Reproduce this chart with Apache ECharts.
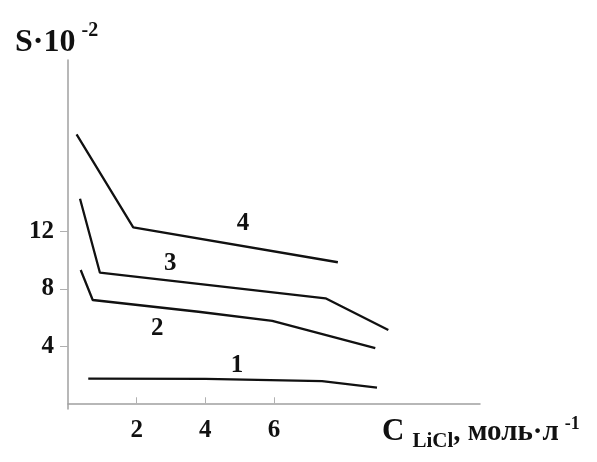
<!DOCTYPE html>
<html><head><meta charset="utf-8">
<script src="https://cdn.jsdelivr.net/npm/echarts@6/dist/echarts.min.js"></script>
<style>html,body{margin:0;padding:0;background:#fff}#c{width:597px;height:462px}</style>
</head><body><div id="c"></div>
<script>
// Curve data: [C_LiCl, S·10^-2]
const curve1 = [[0.59,1.72],[4.0,1.70],[7.4,1.55],[9.0,1.10]];
const curve2 = [[0.37,9.32],[0.72,7.22],[3.8,6.40],[5.95,5.76],[8.95,3.85]];
const curve3 = [[0.35,14.3],[0.93,9.13],[7.5,7.34],[9.33,5.13]];
const curve4 = [[0.25,18.8],[1.9,12.3],[7.86,9.86]];
const curveNames = ['1','2','3','4'];
const labelPos = [[4.92,2.65],[2.6,5.2],[2.98,9.75],[5.1,12.55]];
const xTicks = [2,4,6];
const yTicks = [4,8,12];

const FONT = '"Liberation Serif", "DejaVu Serif", serif';
const curves = [curve1, curve2, curve3, curve4];

const chart = echarts.init(document.getElementById('c'));
chart.setOption({
  backgroundColor: '#fff',
  animation: false,
  grid: {left: 68, right: 117, top: 60, bottom: 53},
  xAxis: {
    type: 'value', min: 0, max: 12,
    axisLine: {show: true, lineStyle: {color: '#a0a0a0', width: 1.5}},
    axisTick: {show: true, inside: true, length: 6, customValues: xTicks, lineStyle: {color: '#b0b0b0'}},
    axisLabel: {customValues: xTicks, margin: 9, color: '#111', fontFamily: FONT, fontWeight: 'bold', fontSize: 25},
    splitLine: {show: false},
    name: '{c|C}{sub|LiCl}{t|, моль·л}{sup|-1}',
    nameLocation: 'end', nameGap: -98,
    nameTextStyle: {
      align: 'left', verticalAlign: 'top', padding: [14,0,0,0],
      rich: {
        c: {fontFamily: FONT, fontWeight: 'bold', fontSize: 31, color: '#111', verticalAlign: 'bottom', lineHeight: 30},
        sub: {fontFamily: FONT, fontWeight: 'bold', fontSize: 21, color: '#111', verticalAlign: 'bottom', lineHeight: 30, padding: [0,0,-5,8]},
        t: {fontFamily: FONT, fontWeight: 'bold', fontSize: 29, color: '#111', verticalAlign: 'bottom', lineHeight: 30},
        sup: {fontFamily: FONT, fontWeight: 'bold', fontSize: 18, color: '#111', verticalAlign: 'top', lineHeight: 30, padding: [-2,0,0,6]}
      }
    }
  },
  yAxis: {
    type: 'value', min: -0.4, max: 24,
    axisLine: {show: true, lineStyle: {color: '#a0a0a0', width: 1.5}},
    axisTick: {show: true, inside: false, length: 8, customValues: yTicks, lineStyle: {color: '#b0b0b0'}},
    axisLabel: {customValues: yTicks, margin: 14, color: '#111', fontFamily: FONT, fontWeight: 'bold', fontSize: 25},
    splitLine: {show: false},
    name: '{s|S·10}{sup|-2}',
    nameLocation: 'end', nameGap: 1,
    nameTextStyle: {
      align: 'left', padding: [0,0,0,-53],
      rich: {
        s: {fontFamily: FONT, fontWeight: 'bold', fontSize: 32, color: '#111', verticalAlign: 'bottom', lineHeight: 34},
        sup: {fontFamily: FONT, fontWeight: 'bold', fontSize: 20, color: '#111', verticalAlign: 'top', lineHeight: 34, padding: [-4,0,0,6]}
      }
    }
  },
  series: curves.map((d, i) => ({
    type: 'line', name: curveNames[i], data: d,
    showSymbol: false, symbol: 'none',
    lineStyle: {color: '#111', width: 2.3},
    markPoint: {
      symbol: 'circle', symbolSize: 0,
      label: {show: true, formatter: curveNames[i], color: '#111', fontFamily: FONT, fontWeight: 'bold', fontSize: 25, position: 'inside'},
      data: [{coord: labelPos[i]}]
    }
  }))
});
</script></body></html>
